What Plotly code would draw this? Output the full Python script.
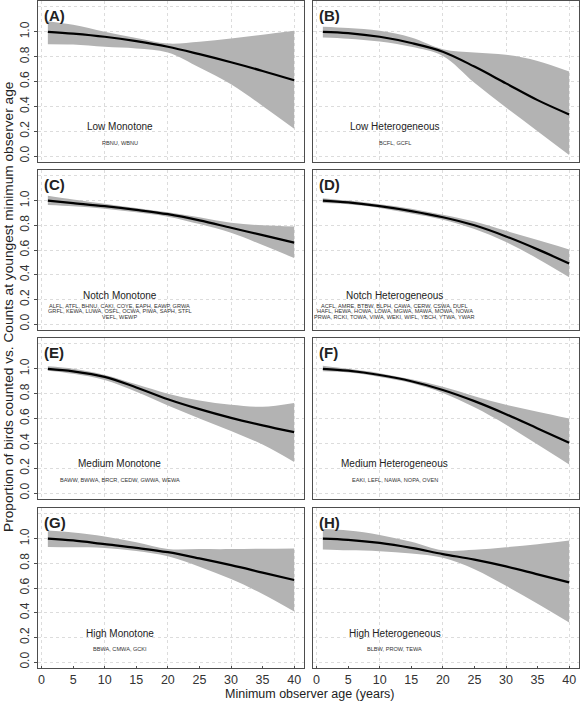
import plotly.graph_objects as go
from plotly.subplots import make_subplots

age = [1, 5, 10, 15, 20, 25, 30, 35, 40]

panel_letters = ["(A)", "(B)", "(C)", "(D)", "(E)", "(F)", "(G)", "(H)"]
group_names = ["Low Monotone", "Low Heterogeneous", "Notch Monotone", "Notch Heterogeneous",
               "Medium Monotone", "Medium Heterogeneous", "High Monotone", "High Heterogeneous"]
species = [
    ["RBNU, WBNU"],
    ["BCFL, GCFL"],
    ["ALFL, ATFL, BHNU, CAKI, COYE, EAPH, EAWP, GRWA",
     "GRFL, KEWA, LUWA, OSFL, OCWA, PIWA, SAPH, STFL",
     "VEFL, WEWP"],
    ["ACFL, AMRE, BTBW, BLPH, CAWA, CERW, CSWA, DUFL",
     "HAFL, HEWA, HOWA, LOWA, MGWA, MAWA, MOWA, NOWA",
     "PRWA, RCKI, TOWA, VIWA, WEKI, WIFL, YBCH, YTWA, YWAR"],
    ["BAWW, BWWA, BRCR, CEDW, GWWA, WEWA"],
    ["EAKI, LEFL, NAWA, NOPA, OVEN"],
    ["BBWA, CMWA, GCKI"],
    ["BLBW, PROW, TEWA"],
]

mean_A = [1.0, 0.985, 0.96, 0.925, 0.88, 0.82, 0.755, 0.685, 0.61]
upper_A = [1.085, 1.056, 1.0, 0.95, 0.905, 0.92, 0.947, 0.976, 1.008]
lower_A = [0.90, 0.897, 0.879, 0.866, 0.833, 0.712, 0.578, 0.403, 0.22]

mean_B = [1.0, 0.99, 0.96, 0.91, 0.84, 0.72, 0.585, 0.45, 0.335]
upper_B = [1.04, 1.03, 1.008, 0.954, 0.86, 0.833, 0.815, 0.766, 0.68]
lower_B = [0.955, 0.945, 0.922, 0.879, 0.806, 0.59, 0.39, 0.2, 0.008]

mean_C = [1.0, 0.98, 0.955, 0.925, 0.89, 0.84, 0.78, 0.72, 0.66]
upper_C = [1.04, 1.01, 0.975, 0.94, 0.905, 0.865, 0.82, 0.8, 0.79]
lower_C = [0.965, 0.955, 0.935, 0.905, 0.87, 0.81, 0.74, 0.64, 0.535]

mean_D = [1.0, 0.985, 0.955, 0.915, 0.865, 0.8, 0.71, 0.605, 0.49]
upper_D = [1.02, 1.0, 0.97, 0.935, 0.885, 0.83, 0.755, 0.68, 0.605]
lower_D = [0.98, 0.97, 0.94, 0.895, 0.845, 0.77, 0.665, 0.53, 0.38]

mean_E = [1.0, 0.98, 0.935, 0.85, 0.755, 0.675, 0.605, 0.545, 0.49]
upper_E = [1.02, 1.0, 0.95, 0.875, 0.8, 0.745, 0.71, 0.695, 0.725]
lower_E = [0.985, 0.96, 0.91, 0.815, 0.705, 0.6, 0.5, 0.39, 0.25]

mean_F = [1.0, 0.985, 0.95, 0.9, 0.83, 0.74, 0.635, 0.52, 0.405]
upper_F = [1.025, 1.0, 0.965, 0.915, 0.855, 0.78, 0.71, 0.655, 0.6]
lower_F = [0.98, 0.97, 0.935, 0.885, 0.805, 0.69, 0.55, 0.39, 0.23]

mean_G = [1.0, 0.985, 0.955, 0.925, 0.89, 0.84, 0.785, 0.725, 0.665]
upper_G = [1.065, 1.05, 1.018, 0.97, 0.915, 0.915, 0.915, 0.918, 0.92]
lower_G = [0.933, 0.93, 0.925, 0.9, 0.858, 0.773, 0.672, 0.552, 0.41]

mean_H = [1.0, 0.99, 0.965, 0.925, 0.875, 0.83, 0.775, 0.71, 0.645]
upper_H = [1.077, 1.065, 1.03, 0.975, 0.905, 0.91, 0.93, 0.955, 0.985]
lower_H = [0.912, 0.905, 0.898, 0.88, 0.845, 0.752, 0.618, 0.472, 0.32]

means = [mean_A, mean_B, mean_C, mean_D, mean_E, mean_F, mean_G, mean_H]
uppers = [upper_A, upper_B, upper_C, upper_D, upper_E, upper_F, upper_G, upper_H]
lowers = [lower_A, lower_B, lower_C, lower_D, lower_E, lower_F, lower_G, lower_H]

x_ticks = [0, 5, 10, 15, 20, 25, 30, 35, 40]
x_grid = [0, 10, 20, 30, 40]
y_ticks = [0.0, 0.2, 0.4, 0.6, 0.8, 1.0]
y_tick_text = ["0.0", "0.2", "0.4", "0.6", "0.8", "1.0"]
y_grid_extra = [1.2]

FONT = "Liberation Sans, Arial, Helvetica, sans-serif"
BAND = "#b3b3b3"
GRID = "#dcdcdc"
BORDER = "#4d4d4d"

fig = make_subplots(rows=4, cols=2)

W, H = 581, 703
x_dom = [(38 / W, 304 / W), (313 / W, 579 / W)]
rows_px = [(1, 162), (170, 330), (338, 499), (508, 668)]
y_dom = [(1 - b / H, 1 - t / H) for t, b in rows_px]

annotations = []
for i in range(8):
    r, c = i // 2, i % 2
    n = i + 1
    sfx = "" if n == 1 else str(n)
    fig.add_trace(go.Scatter(x=age, y=uppers[i], mode="lines", line=dict(width=0, shape="spline", color=BAND),
                             showlegend=False, hoverinfo="skip"), row=r + 1, col=c + 1)
    fig.add_trace(go.Scatter(x=age, y=lowers[i], mode="lines", line=dict(width=0, shape="spline", color=BAND),
                             fill="tonexty", fillcolor=BAND, showlegend=False, hoverinfo="skip"),
                  row=r + 1, col=c + 1)
    fig.add_trace(go.Scatter(x=age, y=means[i], mode="lines", line=dict(width=2.2, shape="spline", color="black"),
                             showlegend=False), row=r + 1, col=c + 1)

    fig.layout["xaxis" + sfx].update(
        domain=x_dom[c], range=[-0.56, 41.56], tickvals=x_ticks, showticklabels=(r == 3),
        showgrid=False, zeroline=False, ticks=("inside" if r == 3 else ""), ticklen=2, tickwidth=1,
        tickcolor=BORDER, showline=True, mirror=True,
        linecolor=BORDER, linewidth=1.3,
        tickfont=dict(family=FONT, size=12.5, color="#333"),
        minor=dict(tickvals=x_grid, showgrid=True, gridcolor=GRID, griddash="dot", gridwidth=1, ticks=""),
    )
    fig.layout["yaxis" + sfx].update(
        domain=y_dom[r], range=[-0.048, 1.248], tickvals=y_ticks, ticktext=y_tick_text,
        showticklabels=(c == 0), tickangle=-90,
        showgrid=True, gridcolor=GRID, griddash="dot", gridwidth=1, zeroline=False,
        ticks=("outside" if c == 0 else ""), ticklen=3, tickwidth=1, tickcolor=BORDER,
        showline=True, mirror=True, linecolor=BORDER, linewidth=1.3,
        tickfont=dict(family=FONT, size=12, color="#333"),
        minor=dict(tickvals=y_grid_extra, showgrid=True, gridcolor=GRID, griddash="dot", gridwidth=1, ticks=""),
    )

    xr, yr = "x" + sfx, "y" + sfx
    annotations.append(dict(x=0.1, y=1.13, xref=xr, yref=yr, text="<b>" + panel_letters[i] + "</b>",
                            showarrow=False, xanchor="left", yanchor="middle",
                            font=dict(family=FONT, size=15, color="#222")))
    annotations.append(dict(x=12.4, y=0.235, xref=xr, yref=yr, text=group_names[i], showarrow=False,
                            xanchor="center", yanchor="middle", font=dict(family=FONT, size=10, color="#222")))
    sp = species[i]
    if len(sp) == 1:
        ys = [0.108]
    else:
        ys = [0.15, 0.105, 0.06]
    for line_txt, yy in zip(sp, ys):
        annotations.append(dict(x=12.4, y=yy, xref=xr, yref=yr, text=line_txt, showarrow=False,
                                xanchor="center", yanchor="middle", font=dict(family=FONT, size=5.6, color="#333")))

annotations.append(dict(x=310 / W, y=1 - 694 / H, xref="paper", yref="paper",
                        text="Minimum observer age (years)", showarrow=False, xanchor="center", yanchor="middle",
                        font=dict(family=FONT, size=12.5, color="#222")))
annotations.append(dict(x=8 / W, y=1 - 307 / H, xref="paper", yref="paper", textangle=-90,
                        text="Proportion of birds counted vs. Counts at youngest minimum observer age",
                        showarrow=False, xanchor="center", yanchor="middle",
                        font=dict(family=FONT, size=13.7, color="#222")))

fig.update_layout(width=W, height=H, margin=dict(l=0, r=0, t=0, b=0),
                  plot_bgcolor="white", paper_bgcolor="white", annotations=annotations,
                  font=dict(family=FONT))

fig.write_html("out.html", config={"displayModeBar": False},
               post_script="document.body.style.margin='0';document.body.style.overflow='hidden';")
